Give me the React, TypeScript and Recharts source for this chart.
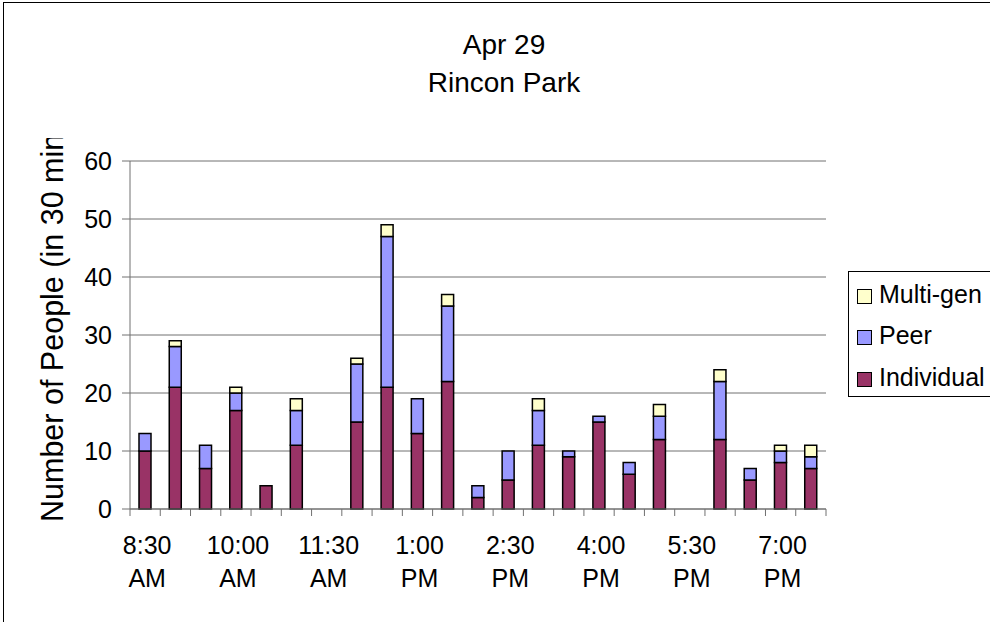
import React from 'react';
import { BarChart, Bar, XAxis, YAxis, CartesianGrid } from 'recharts';

// half-hour slots, 8:30 AM .. 7:30 PM
const timeSlots = [
  '8:30 AM', '9:00 AM', '9:30 AM', '10:00 AM', '10:30 AM', '11:00 AM',
  '11:30 AM', '12:00 PM', '12:30 PM', '1:00 PM', '1:30 PM', '2:00 PM',
  '2:30 PM', '3:00 PM', '3:30 PM', '4:00 PM', '4:30 PM', '5:00 PM',
  '5:30 PM', '6:00 PM', '6:30 PM', '7:00 PM', '7:30 PM',
];
const individual = [10, 21, 7, 17, 4, 11, 0, 15, 21, 13, 22, 2, 5, 11, 9, 15, 6, 12, 0, 12, 5, 8, 7];
const peer = [3, 7, 4, 3, 0, 6, 0, 10, 26, 6, 13, 2, 5, 6, 1, 1, 2, 4, 0, 10, 2, 2, 2];
const multiGen = [0, 1, 0, 1, 0, 2, 0, 1, 2, 0, 2, 0, 0, 2, 0, 0, 0, 2, 0, 2, 0, 1, 2];
const yTicks = [0, 10, 20, 30, 40, 50, 60];

const series = [
  { key: 'individual', name: 'Individual', color: '#993366' },
  { key: 'peer', name: 'Peer', color: '#9999FF' },
  { key: 'multiGen', name: 'Multi-gen', color: '#FFFFCC' },
];

const data = timeSlots.map((t, i) => ({
  time: t,
  individual: individual[i],
  peer: peer[i],
  multiGen: multiGen[i],
}));

const FONT = '"Liberation Sans", Arial, Helvetica, sans-serif';
const AXIS_GRAY = '#707070';
const LABEL_EVERY = 3;

function TimeTick(props: any) {
  const { x, y, payload, index } = props;
  const half = payload && payload.offset ? payload.offset : 15.13;
  const [clock, ampm] = String(payload.value).split(' ');
  const isLast = index === timeSlots.length - 1;
  return (
    <g>
      <line x1={x - half} x2={x - half} y1={y} y2={y + 7} stroke={AXIS_GRAY} />
      {isLast && <line x1={x + half} x2={x + half} y1={y} y2={y + 7} stroke={AXIS_GRAY} />}
      {index % LABEL_EVERY === 0 && (
        <text x={x + 2} y={y} textAnchor="middle" fill="#000" fontSize={25} fontFamily={FONT}>
          <tspan x={x + 2} dy={45}>{clock}</tspan>
          <tspan x={x + 2} dy={33}>{ampm}</tspan>
        </text>
      )}
    </g>
  );
}

export default function App() {
  return (
    <div
      style={{
        position: 'fixed',
        left: 0,
        top: 0,
        width: 990,
        height: 622,
        overflow: 'hidden',
        background: '#fff',
        fontFamily: FONT,
      }}
    >
      <div
        style={{
          position: 'absolute',
          left: 3,
          top: 2,
          width: 1100,
          height: 800,
          border: '1px solid #000',
        }}
      />
      <BarChart
        width={990}
        height={622}
        data={data}
        margin={{ top: 161, right: 164, left: 70, bottom: 53 }}
        style={{ position: 'absolute', left: 0, top: 0 }}
      >
        <CartesianGrid vertical={false} stroke={AXIS_GRAY} strokeWidth={1} />
        <XAxis
          dataKey="time"
          interval={0}
          height={60}
          axisLine={{ stroke: AXIS_GRAY }}
          tickLine={false}
          tickSize={0}
          tickMargin={0}
          tick={<TimeTick />}
        />
        <YAxis
          width={60}
          domain={[0, 60]}
          ticks={yTicks}
          interval={0}
          axisLine={{ stroke: AXIS_GRAY }}
          tickLine={{ stroke: AXIS_GRAY }}
          tickSize={8}
          tickMargin={10}
          tick={{ fill: '#000', fontSize: 25, fontFamily: FONT }}
        />
        {series.map((s) => (
          <Bar
            key={s.key}
            dataKey={s.key}
            name={s.name}
            stackId="people"
            fill={s.color}
            stroke="#000"
            strokeWidth={1.5}
            barSize={12}
            isAnimationActive={false}
          />
        ))}
      </BarChart>

      <svg
        width={990}
        height={622}
        style={{ position: 'absolute', left: 0, top: 0, pointerEvents: 'none' }}
      >
        <defs>
          <clipPath id="ylabel-clip">
            <rect x={0} y={138} width={120} height={480} />
          </clipPath>
        </defs>
        <text x={504} y={54} textAnchor="middle" fontSize={28} fontFamily={FONT} fill="#000">
          Apr 29
        </text>
        <text x={504} y={92} textAnchor="middle" fontSize={28} fontFamily={FONT} fill="#000">
          Rincon Park
        </text>
        <g clipPath="url(#ylabel-clip)">
          <text
            x={63}
            y={522}
            transform="rotate(-90, 63, 522)"
            textAnchor="start"
            fontSize={30.5}
            fontFamily={FONT}
            fill="#000"
          >
            Number of People (in 30 min)
          </text>
        </g>
      </svg>

      <div
        style={{
          position: 'absolute',
          left: 848,
          top: 271,
          width: 160,
          height: 126,
          border: '1px solid #000',
          background: '#fff',
          boxSizing: 'border-box',
        }}
      >
        {[...series].reverse().map((s, i) => (
          <div
            key={s.key}
            style={{
              position: 'absolute',
              left: 8,
              top: 8 + i * 41.5,
              height: 28,
              display: 'flex',
              alignItems: 'center',
              fontSize: 25,
              color: '#000',
              whiteSpace: 'nowrap',
            }}
          >
            <span
              style={{
                display: 'inline-block',
                width: 13,
                height: 13,
                background: s.color,
                border: '1px solid #000',
                marginRight: 7,
                marginTop: 4,
              }}
            />
            {s.name}
          </div>
        ))}
      </div>
    </div>
  );
}
